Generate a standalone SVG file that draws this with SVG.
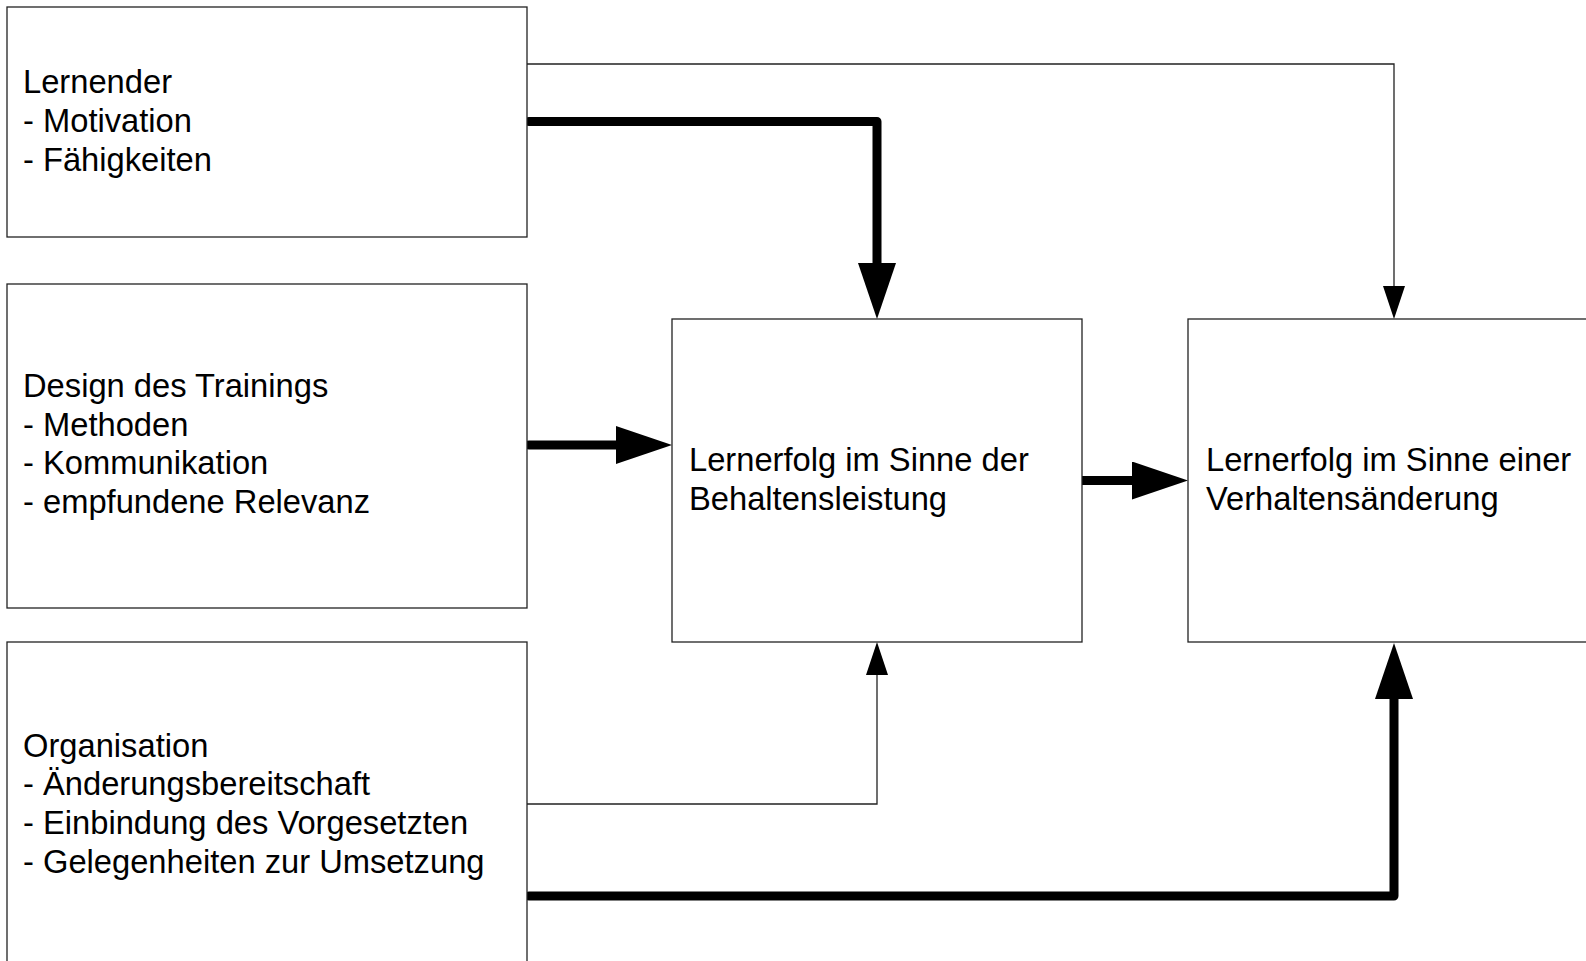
<svg xmlns="http://www.w3.org/2000/svg" width="1586" height="961" viewBox="0 0 1586 961">
<style>
.box{fill:#fff;stroke:#222;stroke-width:1.3}
.t{font-family:"Liberation Sans",Arial,sans-serif;font-size:32.7px;fill:#000}
.thin{fill:none;stroke:#222;stroke-width:1.3}
.thick{fill:none;stroke:#000;stroke-width:9;stroke-linejoin:round;stroke-linecap:round}
</style>
<defs>
<marker id="ah" viewBox="0 0 56 38" refX="0" refY="19" markerWidth="56" markerHeight="38" markerUnits="userSpaceOnUse" orient="auto">
<path d="M0,0 L56,19 L0,38 z" fill="#000"/>
</marker>
<marker id="as" viewBox="0 0 33 22" refX="0" refY="11" markerWidth="33" markerHeight="22" markerUnits="userSpaceOnUse" orient="auto">
<path d="M0,0 L33,11 L0,22 z" fill="#000"/>
</marker>
</defs>
<rect width="1586" height="961" fill="#fff"/>
<g id="connectors">
<path class="thin" d="M527,64 H1394 V286" marker-end="url(#as)"/>
<path class="thick" d="M529,121.5 H877 V263" marker-end="url(#ah)"/>
<path class="thick" d="M529,445 H616" marker-end="url(#ah)"/>
<path class="thick" d="M1079,480.5 H1132" marker-end="url(#ah)"/>
<path class="thin" d="M527,804 H877 V675" marker-end="url(#as)"/>
<path class="thick" d="M529,896 H1394 V699" marker-end="url(#ah)"/>
</g>
<g id="lernender">
<rect class="box" x="7" y="7" width="520" height="230"/>
<text class="t" x="23" y="93">Lernender</text>
<text class="t" x="23" y="132">- Motivation</text>
<text class="t" x="23" y="171">- Fähigkeiten</text>
</g>
<g id="design">
<rect class="box" x="7" y="284" width="520" height="324"/>
<text class="t" x="23" y="397">Design des Trainings</text>
<text class="t" x="23" y="436">- Methoden</text>
<text class="t" x="23" y="474">- Kommunikation</text>
<text class="t" x="23" y="513">- empfundene Relevanz</text>
</g>
<g id="organisation">
<rect class="box" x="7" y="642" width="520" height="330"/>
<text class="t" x="23" y="757">Organisation</text>
<text class="t" x="23" y="795">- Änderungsbereitschaft</text>
<text class="t" x="23" y="834">- Einbindung des Vorgesetzten</text>
<text class="t" x="23" y="873">- Gelegenheiten zur Umsetzung</text>
</g>
<g id="behaltensleistung">
<rect class="box" x="672" y="319" width="410" height="323"/>
<text class="t" x="689" y="471">Lernerfolg im Sinne der</text>
<text class="t" x="689" y="510">Behaltensleistung</text>
</g>
<g id="verhaltensaenderung">
<rect class="box" x="1188" y="319" width="410" height="323"/>
<text class="t" x="1206" y="471">Lernerfolg im Sinne einer</text>
<text class="t" x="1206" y="510">Verhaltensänderung</text>
</g>
</svg>
